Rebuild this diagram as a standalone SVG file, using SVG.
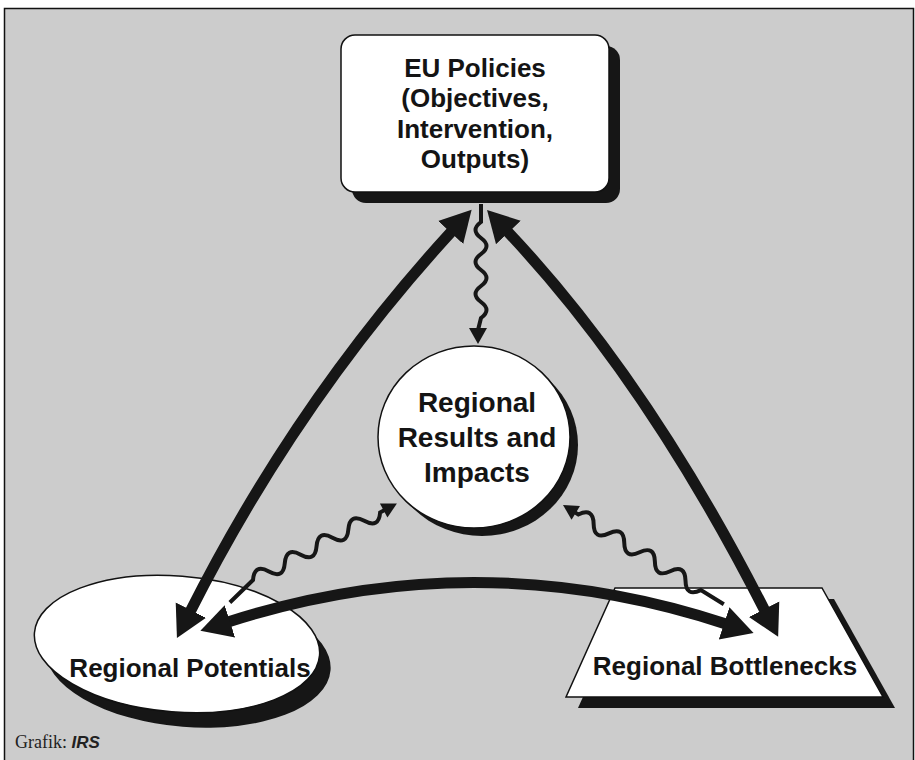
<svg xmlns="http://www.w3.org/2000/svg" width="915" height="760" viewBox="0 0 915 760">
<defs>
<style>
.shape{fill:#fff;stroke:#111;stroke-width:1.5}
.shadow{fill:#161616}
.label{font-family:"Liberation Sans",Arial,sans-serif;font-weight:bold;fill:#141414;text-anchor:middle}
.thick{fill:none;stroke:#161616;stroke-width:11}
.wave{fill:none;stroke:#161616;stroke-width:4}
.head{fill:#161616}
</style>
<marker id="big" markerUnits="userSpaceOnUse" markerWidth="40" markerHeight="40" viewBox="0 -20 40 40" refX="2" refY="0" orient="auto-start-reverse">
<path d="M0,-17 L31,0 L0,17 Z" fill="#161616"/>
</marker>
</defs>
<rect x="0" y="0" width="915" height="760" fill="#fff"/>
<rect x="4.5" y="8.5" width="909" height="760" fill="#cccccc" stroke="#111" stroke-width="1.5"/>

<g id="eu-policies">
<rect class="shadow" x="352" y="46" width="268" height="157" rx="14"/>
<rect class="shape" x="341" y="35" width="268" height="157" rx="14"/>
<text class="label" font-size="26" x="475" y="77">EU Policies</text>
<text class="label" font-size="26" x="475" y="107">(Objectives,</text>
<text class="label" font-size="26" x="475" y="138">Intervention,</text>
<text class="label" font-size="26" x="475" y="168">Outputs)</text>
</g>

<g id="regional-results">
<ellipse class="shadow" cx="482" cy="445" rx="96" ry="91"/>
<ellipse class="shape" cx="474" cy="437" rx="96" ry="91"/>
<text class="label" font-size="28" x="477" y="412">Regional</text>
<text class="label" font-size="28" x="477" y="447">Results and</text>
<text class="label" font-size="28" x="477" y="482">Impacts</text>
</g>

<g id="regional-potentials">
<ellipse class="shadow" cx="188" cy="659" rx="143" ry="68" transform="rotate(4.5 188 659)"/>
<ellipse class="shape" cx="177" cy="644" rx="143" ry="68" transform="rotate(4.5 177 644)"/>
<text class="label" font-size="26" x="190" y="677">Regional Potentials</text>
</g>

<g id="regional-bottlenecks">
<polygon class="shadow" points="627,599 834,599 895,708 578,708"/>
<polygon class="shape" points="615,588 822,588 883,697 566,697"/>
<text class="label" font-size="26" x="725" y="675">Regional Bottlenecks</text>
</g>

<g id="connectors">
<path class="thick" d="M452,231 Q297,400 190,612" marker-start="url(#big)" marker-end="url(#big)"/>
<path class="thick" d="M507,231 Q647,379 765,611" marker-start="url(#big)" marker-end="url(#big)"/>
<path class="thick" d="M228,622 Q477,542 726,624" marker-start="url(#big)" marker-end="url(#big)"/>

<path class="wave" d="M481,204 L481,222 q-11,8 0,16 t0,16 t0,16 t0,16 t0,16 t0,16 L478,330"/>
<polygon class="head" points="469,328 487,328 478,344"/>

<g transform="translate(253,580) rotate(-28)">
<path class="wave" d="M-31,9 L0,0 q9,-14 18,0 t18,0 t18,0 t18,0 t18,0 t18,0 t18,0 t18,0 L150,0"/>
<polygon class="head" points="148,-8 163,0 148,8"/>
</g>

<g transform="translate(563,505) rotate(31.7)">
<polygon class="head" points="0,0 15,-8 15,8"/>
<path class="wave" d="M14,0 L18,0 q9,-14 18,0 t18,0 t18,0 t18,0 t18,0 t18,0 t18,0 t18,0 L189,0"/>
</g>
</g>

<text x="15" y="748" font-family="'Liberation Serif','Times New Roman',serif" font-size="18" fill="#222">Grafik: <tspan font-family="'Liberation Sans',Arial,sans-serif" font-weight="bold" font-style="italic" font-size="17">IRS</tspan></text>
</svg>
